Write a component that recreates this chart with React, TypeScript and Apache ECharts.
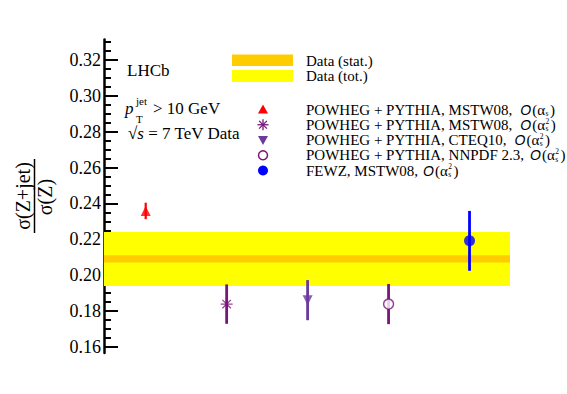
import React, { useEffect, useRef } from "react";
import * as echarts from "echarts";

// ---------------- data ----------------
const xPositions = [1, 2, 3, 4, 5];
const ratioValues = [0.2358, 0.1838, 0.186, 0.1838, 0.2191];
const ratioErrors = [0.0046, 0.011, 0.0112, 0.0112, 0.0167];
const dataCentral = 0.209;
const dataStatErr = 0.002;
const dataTotErr = 0.0151;
const yTickMin = 0.16;
const yTickMax = 0.32;
const yTickStep = 0.02;
const modelLabels = [
  "POWHEG + PYTHIA, MSTW08,",
  "POWHEG + PYTHIA, MSTW08,",
  "POWHEG + PYTHIA, CTEQ10,",
  "POWHEG + PYTHIA, NNPDF 2.3,",
  "FEWZ, MSTW08,",
];
const alphaOrders = [1, 2, 2, 2, 2];
const bandLabels = ["Data (stat.)", "Data (tot.)"];

// ---------------- style / layout ----------------
const markerColors = ["#ff0000", "#7a1578", "#6b3a9e", "#7a1578", "#0000ff"];
const SERIF = "'Liberation Serif', 'Times New Roman', serif";
const SANS = "'Liberation Sans', Arial, sans-serif";
const X_MIN = 0.485;
const X_MAX = 5.5;
const Y_MIN = 0.1565;
const Y_MAX = 0.3315;
const G_LEFT = 104;
const G_TOP = 39.5;
const G_BOTTOM = 353;
const G_WIDTH = 406;
const pxPerUnit = (G_BOTTOM - G_TOP) / (Y_MAX - Y_MIN);
const yPix = (v: number) => G_TOP + (Y_MAX - v) * pxPerUnit;
const legendRowsY = [109.5, 124.75, 140, 155.25, 170.5];
const legendGaps = [8, 8, 8, 6, 5];

export default function App() {
  const ref = useRef<HTMLDivElement>(null);
  useEffect(() => {
    if (!ref.current) return;
    const chart = echarts.init(ref.current, null, { renderer: "svg" });

    const cv = document.createElement("canvas");
    const ctx = cv.getContext("2d")!;
    const measure = (t: string, font: string) => {
      ctx.font = font;
      return ctx.measureText(t).width;
    };
    const mainFont = `15px ${SERIF}`;
    const O_SIZE = 14;
    const oFont = `italic ${O_SIZE}px ${SANS}`;
    const SMALL = 7.5;
    const smallFont = `${SMALL}px ${SERIF}`;

    const graphics: any[] = [];
    const txt = (x: number, y: number, text: string, size: number, extra: any = {}, el: any = {}) => ({
      type: "text",
      x,
      y,
      silent: true,
      ...el,
      style: {
        text,
        fontSize: size,
        fontFamily: SERIF,
        fill: "#000",
        align: "left",
        verticalAlign: "middle",
        ...extra,
      },
    });

    // Y axis title (rotated fraction)
    graphics.push(txt(22.5, 196, "σ(Z+jet)", 20, { align: "center" }, { rotation: Math.PI / 2 }));
    graphics.push(txt(44.5, 197, "σ(Z)", 20, { align: "center" }, { rotation: Math.PI / 2 }));
    graphics.push({
      type: "line",
      silent: true,
      shape: { x1: 34.5, y1: 159, x2: 34.5, y2: 233 },
      style: { stroke: "#000", lineWidth: 1.5 },
    });

    // Annotations
    graphics.push(txt(127, 70, "LHCb", 17));
    graphics.push(txt(125, 108.5, "p", 17, { fontStyle: "italic" }));
    graphics.push(txt(136, 101, "jet", 11));
    graphics.push(txt(136, 119, "T", 11));
    graphics.push(txt(153, 108.5, "> 10 GeV", 17));
    graphics.push({
      type: "text",
      x: 128,
      y: 133.5,
      silent: true,
      style: {
        text: "{n|√}{i|s}{n| = 7 TeV Data}",
        verticalAlign: "middle",
        align: "left",
        rich: {
          n: { fontSize: 17, fontFamily: SERIF, fill: "#000" },
          i: { fontSize: 17, fontFamily: SERIF, fontStyle: "italic", fill: "#000" },
        },
      },
    });

    // Data band legend
    graphics.push({ type: "rect", silent: true, shape: { x: 232, y: 54.5, width: 61, height: 11.5 }, style: { fill: "#ffcc00" } });
    graphics.push({ type: "rect", silent: true, shape: { x: 232, y: 70, width: 61, height: 12 }, style: { fill: "#ffff00" } });
    graphics.push(txt(306, 61, bandLabels[0], 15));
    graphics.push(txt(306, 76, bandLabels[1], 15));

    // Model legend rows
    modelLabels.forEach((label, i) => {
      const y = legendRowsY[i];
      const cx = 263;
      const c = markerColors[i];
      if (i === 0) {
        graphics.push({ type: "polygon", silent: true, shape: { points: [[cx, y - 5], [cx + 5, y + 4], [cx - 5, y + 4]] }, style: { fill: c } });
      } else if (i === 1) {
        const r = 5.5, d = 3.9;
        [[0, -r, 0, r], [-r, 0, r, 0], [-d, -d, d, d], [-d, d, d, -d]].forEach((s) =>
          graphics.push({ type: "line", silent: true, shape: { x1: cx + s[0], y1: y + s[1], x2: cx + s[2], y2: y + s[3] }, style: { stroke: c, lineWidth: 1.3 } })
        );
      } else if (i === 2) {
        graphics.push({ type: "polygon", silent: true, shape: { points: [[cx - 5, y - 4], [cx + 5, y - 4], [cx, y + 5]] }, style: { fill: c } });
      } else if (i === 3) {
        graphics.push({ type: "circle", silent: true, shape: { cx, cy: y, r: 4.5 }, style: { fill: "#fff", stroke: c, lineWidth: 1.5 } });
      } else {
        graphics.push({ type: "circle", silent: true, shape: { cx, cy: y, r: 5 }, style: { fill: c } });
      }

      let x = 306;
      graphics.push(txt(x, y, label, 15));
      x += measure(label, mainFont) + legendGaps[i];
      graphics.push(txt(x, y, "O", O_SIZE, { fontFamily: SANS, fontStyle: "italic" }));
      x += measure("O", oFont) + 1;
      graphics.push(txt(x, y, "(α", 15));
      x += measure("(α", mainFont) + 0.5;
      graphics.push(txt(x, y + 3.75, "s", SMALL));
      let w = measure("s", smallFont);
      if (alphaOrders[i] > 1) {
        const sup = String(alphaOrders[i]);
        graphics.push(txt(x, y - 3.75, sup, SMALL));
        w = Math.max(w, measure(sup, smallFont));
      }
      x += w + 1.5;
      graphics.push(txt(x, y, ")", 15));
    });

    const bandData = [
      [X_MIN, dataCentral - dataTotErr, X_MAX, dataCentral + dataTotErr],
      [X_MIN, dataCentral - dataStatErr, X_MAX, dataCentral + dataStatErr],
    ];
    const bandColors = ["#ffff00", "#ffcc00"];
    const errData = xPositions.map((x, i) => [x, ratioValues[i] - ratioErrors[i], ratioValues[i] + ratioErrors[i]]);

    const markerDefs: any[] = [
      { symbol: "triangle", symbolSize: 10, itemStyle: { color: markerColors[0] } },
      {
        symbol: "path://M0 -6L0 6M-6 0L6 0M-4.2 -4.2L4.2 4.2M-4.2 4.2L4.2 -4.2",
        symbolSize: 12,
        itemStyle: { color: "rgba(0,0,0,0)", borderColor: markerColors[1], borderWidth: 1.3 },
      },
      { symbol: "triangle", symbolRotate: 180, symbolSize: 10, itemStyle: { color: markerColors[2] } },
      { symbol: "circle", symbolSize: 10, itemStyle: { color: "#ffffff", borderColor: markerColors[3], borderWidth: 1.5 } },
      { symbol: "circle", symbolSize: 11, itemStyle: { color: markerColors[4] } },
    ];

    const hiddenX = (gi: number) => ({ type: "value", gridIndex: gi, min: X_MIN, max: X_MAX, show: false });
    const tickLine = { color: "#000", width: 2 };

    const option: any = {
      animation: false,
      backgroundColor: "#fff",
      grid: [
        { left: G_LEFT, top: G_TOP, width: G_WIDTH, height: G_BOTTOM - G_TOP },
        { left: G_LEFT, top: yPix(yTickMax), width: G_WIDTH, height: yPix(yTickMin) - yPix(yTickMax) },
        { left: G_LEFT, top: yPix(0.33), width: G_WIDTH, height: yPix(0.32) - yPix(0.33) },
      ],
      xAxis: [hiddenX(0), hiddenX(1), hiddenX(2)],
      yAxis: [
        {
          type: "value",
          gridIndex: 0,
          min: Y_MIN,
          max: Y_MAX,
          axisLine: { show: true, onZero: false, lineStyle: { color: "#000", width: 2.5 } },
          axisTick: { show: false },
          axisLabel: { show: false },
          splitLine: { show: false },
        },
        {
          type: "value",
          gridIndex: 1,
          min: yTickMin,
          max: yTickMax,
          interval: yTickStep,
          axisLine: { show: false },
          axisTick: { show: true, inside: true, length: 14, lineStyle: tickLine },
          minorTick: { show: true, splitNumber: 4, length: 7, lineStyle: tickLine },
          axisLabel: {
            fontFamily: SERIF,
            fontSize: 18,
            color: "#000",
            margin: 3,
            formatter: (v: number) => v.toFixed(2),
          },
          splitLine: { show: false },
          minorSplitLine: { show: false },
        },
        {
          type: "value",
          gridIndex: 2,
          min: 0.32,
          max: 0.33,
          interval: 0.005,
          axisLine: { show: false },
          axisTick: { show: true, inside: true, length: 7, lineStyle: tickLine },
          axisLabel: { show: false },
          splitLine: { show: false },
        },
      ],
      series: [
        {
          type: "custom",
          xAxisIndex: 0,
          yAxisIndex: 0,
          z: 1,
          silent: true,
          data: bandData,
          encode: { x: [0, 2], y: [1, 3] },
          renderItem: (params: any, api: any) => {
            const p0 = api.coord([api.value(0), api.value(3)]);
            const p1 = api.coord([api.value(2), api.value(1)]);
            return {
              type: "rect",
              shape: { x: p0[0], y: p0[1], width: p1[0] - p0[0], height: p1[1] - p0[1] },
              style: { fill: bandColors[params.dataIndex] },
            };
          },
        },
        {
          type: "custom",
          xAxisIndex: 0,
          yAxisIndex: 0,
          z: 2,
          silent: true,
          data: errData,
          encode: { x: 0, y: [1, 2] },
          renderItem: (params: any, api: any) => {
            const a = api.coord([api.value(0), api.value(1)]);
            const b = api.coord([api.value(0), api.value(2)]);
            return {
              type: "line",
              shape: { x1: a[0], y1: a[1], x2: b[0], y2: b[1] },
              style: { stroke: markerColors[params.dataIndex], lineWidth: params.dataIndex === 0 ? 2.2 : 2.8 },
            };
          },
        },
        ...markerDefs.map((m, i) => ({
          type: "scatter",
          xAxisIndex: 0,
          yAxisIndex: 0,
          z: 3,
          silent: true,
          ...m,
          data: [[xPositions[i], ratioValues[i]]],
        })),
      ],
      graphic: { elements: graphics },
    };

    chart.setOption(option);
    return () => chart.dispose();
  }, []);

  return <div ref={ref} style={{ position: "absolute", left: 0, top: 0, width: 567, height: 394 }} />;
}
